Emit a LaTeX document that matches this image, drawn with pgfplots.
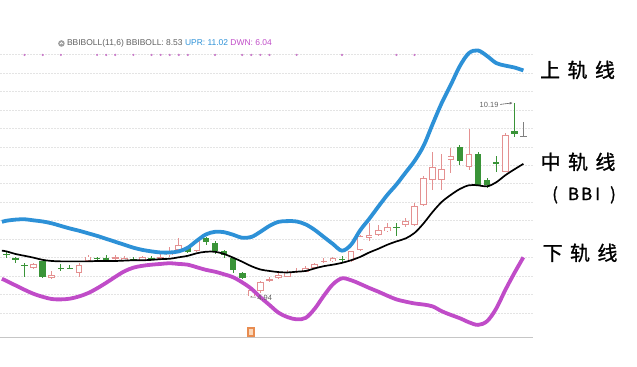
\documentclass[border=0pt]{standalone}
\usepackage{fontspec}
\setmainfont{Liberation Sans}
\newfontfamily\cjk[FakeBold=1.2]{Noto Sans CJK SC}
\usepackage{pgfplots}
\usepackage{pgfplotstable}
\pgfplotsset{compat=1.18}
\usetikzlibrary{arrows.meta}

\definecolor{bandblue}{RGB}{45,145,215}
\definecolor{bandpurple}{RGB}{192,76,200}
\definecolor{cgreen}{RGB}{58,148,56}
\definecolor{cpink}{RGB}{228,145,145}
\definecolor{gridgray}{RGB}{228,228,228}
\definecolor{txtgray}{RGB}{95,95,95}
\definecolor{dotpurple}{RGB}{200,120,200}
\definecolor{iconorange}{RGB}{232,140,80}
\definecolor{iconlight}{RGB}{250,215,185}

% candles: x = trading day, o h l c = open high low close
\pgfplotstableread{
x o h l c
3 5.72 5.85 5.70 5.83
5 5.45 5.64 5.43 5.54
8 5.58 5.85 5.49 5.79
9 5.91 6.06 5.90 6.03
12 5.98 6.08 5.90 6.00
13 5.95 6.04 5.93 6.00
15 5.93 6.05 5.91 6.02
17 5.98 6.10 5.93 6.00
18 6.06 6.29 6.02 6.16
19 6.21 6.53 6.19 6.35
21 6.19 6.48 6.16 6.44
27 4.95 5.16 4.94 5.13
28 5.10 5.37 5.04 5.34
29 5.39 5.48 5.35 5.41
30 5.45 5.58 5.43 5.54
31 5.49 5.66 5.47 5.62
32 5.62 5.73 5.58 5.64
33 5.62 5.77 5.60 5.73
34 5.72 5.86 5.70 5.83
35 5.89 5.98 5.85 5.91
36 5.91 6.02 5.89 5.99
38 5.90 6.19 5.89 6.17
39 6.21 6.62 6.19 6.59
40 6.53 6.95 6.46 6.62
41 6.62 6.89 6.59 6.75
42 6.71 6.93 6.69 6.83
44 6.89 7.07 6.83 6.98
45 6.89 7.49 6.86 7.40
46 7.43 8.20 7.40 8.15
47 8.11 8.87 7.84 8.45
48 8.11 8.81 7.84 8.40
49 8.65 8.96 8.30 8.74
51 8.45 9.48 8.38 8.81
55 8.33 9.37 8.32 9.32
}\pinktab

\pgfplotstableread{
x o h l c
0 6.10 6.19 6.00 6.08
1 5.99 6.03 5.86 5.94
2 5.81 5.86 5.49 5.77
4 5.90 5.91 5.46 5.49
6 5.73 5.83 5.64 5.70
7 5.73 5.79 5.68 5.70
10 6.00 6.03 5.91 5.96
11 5.98 6.06 5.90 5.96
14 5.96 6.02 5.91 5.94
16 6.00 6.04 5.93 5.95
20 6.26 6.29 6.13 6.15
22 6.53 6.57 6.35 6.42
23 6.39 6.44 6.10 6.17
24 6.17 6.21 5.99 6.06
25 5.99 6.03 5.58 5.67
26 5.58 5.62 5.43 5.46
37 5.97 6.04 5.89 5.94
43 6.84 6.95 6.59 6.81
50 8.99 9.05 8.51 8.63
52 8.81 8.87 7.93 7.97
53 8.09 8.15 7.88 7.97
54 8.59 8.74 8.33 8.56
56 9.44 10.19 9.28 9.35
}\greentab

\pgfplotstableread{
x o h l c
57 9.30 9.68 9.27 9.28
}\graytab

% bands: upper, middle (BBI), lower
\pgfplotstableread{
x up mid dn
-0.5 6.97 6.19 5.43
0 7.00 6.17 5.37
1 7.03 6.10 5.25
2 7.04 6.05 5.13
3 7.01 6.00 5.02
4 6.98 5.94 4.94
5 6.93 5.91 4.88
6 6.86 5.90 4.87
7 6.79 5.90 4.89
8 6.73 5.90 4.95
9 6.66 5.90 5.04
10 6.59 5.91 5.17
11 6.51 5.91 5.32
12 6.43 5.91 5.48
13 6.35 5.92 5.63
14 6.27 5.93 5.73
15 6.21 5.93 5.78
16 6.17 5.94 5.81
17 6.14 5.96 5.83
18 6.14 5.97 5.85
19 6.17 6.01 5.83
20 6.27 6.05 5.81
21 6.46 6.12 5.74
22 6.63 6.16 5.67
23 6.70 6.16 5.62
24 6.69 6.10 5.55
25 6.62 6.00 5.47
26 6.54 5.89 5.33
27 6.56 5.77 5.16
28 6.70 5.68 4.93
29 6.86 5.64 4.72
30 6.97 5.61 4.51
31 6.99 5.60 4.39
32 6.98 5.62 4.33
33 6.90 5.64 4.37
34 6.75 5.71 4.62
35 6.56 5.77 4.97
36 6.37 5.81 5.28
37 6.19 5.86 5.44
38 6.35 5.93 5.39
39 6.74 6.02 5.29
40 7.05 6.14 5.18
41 7.38 6.24 5.08
42 7.70 6.35 4.97
43 7.98 6.44 4.87
44 8.30 6.52 4.81
45 8.62 6.67 4.76
46 9.03 6.93 4.73
47 9.62 7.24 4.68
48 10.19 7.51 4.55
49 10.68 7.70 4.45
50 11.19 7.86 4.36
51 11.54 7.96 4.25
52 11.61 7.96 4.18
53 11.46 7.93 4.28
54 11.27 8.04 4.62
55 11.20 8.23 5.12
56 11.15 8.39 5.58
57 11.07 8.54 6.01
}\bandtab

\begin{document}
\begin{tikzpicture}
\begin{axis}[
  scale only axis, width=637bp, height=367bp,
  xmin=-0.661, xmax=69.53, ymin=3.046, ymax=12.977,
  axis line style={draw=none}, xtick=\empty, ytick=\empty,
  clip=false,
  error bars/error mark=none,
]
% grid
\pgfplotsinvokeforeach{4.5,5.0,...,11.5}{
  \draw[gridgray, line width=0.7bp, dash pattern=on 2bp off 1bp] (axis cs:-0.661,#1) -- (axis cs:58.1,#1);
}
\draw[gray!45, line width=0.8bp] (axis cs:-0.661,3.844) -- (axis cs:58.1,3.844);

% event dots
\addplot[only marks, mark=*, mark size=0.9bp, color=dotpurple] coordinates {
(2,11.49) (4,11.49) (6,11.49) (10,11.49) (11,11.49) (12,11.49) (14,11.49)
(16,11.49) (17,11.49) (18,11.49) (19,11.49) (20,11.49) (23,11.49) (26,11.49)
(27,11.49) (28,11.49) (29,11.49) (32,11.49) (37,11.49) (43,11.49) (45,11.49)};

% wicks
\addplot[draw=none, mark=none, error bars/.cd, y dir=both, y explicit,
  error bar style={line width=0.9bp, draw=cpink}]
  table[x=x, y expr=(\thisrow{h}+\thisrow{l})/2, y error expr=(\thisrow{h}-\thisrow{l})/2] {\pinktab};
\addplot[draw=none, mark=none, error bars/.cd, y dir=both, y explicit,
  error bar style={line width=0.9bp, draw=cgreen}]
  table[x=x, y expr=(\thisrow{h}+\thisrow{l})/2, y error expr=(\thisrow{h}-\thisrow{l})/2] {\greentab};
\addplot[draw=none, mark=none, error bars/.cd, y dir=both, y explicit,
  error bar style={line width=0.9bp, draw=gray}]
  table[x=x, y expr=(\thisrow{h}+\thisrow{l})/2, y error expr=(\thisrow{h}-\thisrow{l})/2] {\graytab};
% bodies
\addplot[draw=none, mark=none, error bars/.cd, y dir=both, y explicit,
  error bar style={line width=6.6bp, draw=cpink}]
  table[x=x, y expr=(\thisrow{o}+\thisrow{c})/2, y error expr={max(abs(\thisrow{c}-\thisrow{o})/2,0.016)}] {\pinktab};
\addplot[draw=none, mark=none, error bars/.cd, y dir=both, y explicit,
  error bar style={line width=4.8bp, draw=white}]
  table[x=x, y expr=(\thisrow{o}+\thisrow{c})/2, y error expr={max(abs(\thisrow{c}-\thisrow{o})/2-0.024,0)}] {\pinktab};
\addplot[draw=none, mark=none, error bars/.cd, y dir=both, y explicit,
  error bar style={line width=6.6bp, draw=cgreen}]
  table[x=x, y expr=(\thisrow{o}+\thisrow{c})/2, y error expr={max(abs(\thisrow{c}-\thisrow{o})/2,0.018)}] {\greentab};
\addplot[draw=none, mark=none, error bars/.cd, y dir=both, y explicit,
  error bar style={line width=6.6bp, draw=gray}]
  table[x=x, y expr=(\thisrow{o}+\thisrow{c})/2, y error expr={max(abs(\thisrow{c}-\thisrow{o})/2,0.016)}] {\graytab};

% bands
\addplot[smooth, tension=0.55, no marks, bandblue, line width=3.8bp] table[x=x, y=up] {\bandtab};
\addplot[smooth, tension=0.55, no marks, bandpurple, line width=3.8bp] table[x=x, y=dn] {\bandtab};
\addplot[smooth, tension=0.55, no marks, black, line width=1.7bp] table[x=x, y=mid] {\bandtab};

% annotations
\draw[txtgray, line width=0.6bp] (axis cs:26.9,4.935) -- (axis cs:27.5,4.93);
\node[anchor=west, inner sep=0pt, text=txtgray, font=\fontsize{7.5}{8}\selectfont] at (rel axis cs:0.4035,0.1880) {4.94};
\node[anchor=east, inner sep=0pt, text=txtgray, font=\fontsize{7.5}{8}\selectfont] at (rel axis cs:0.7826,0.7139) {10.19};
\draw[txtgray, line width=0.6bp, -{Stealth[length=3bp,width=2.4bp]}] (axis cs:54.44,10.15) -- (axis cs:55.8,10.19);

% header
\fill[gray!75] (rel axis cs:0.0958,0.8815) circle[radius=3.3bp];
\draw[white, line width=0.8bp] ([xshift=-1.5bp,yshift=-0.6bp]rel axis cs:0.0958,0.8815) -- ([yshift=0.9bp]rel axis cs:0.0958,0.8815) -- ([xshift=1.5bp,yshift=-0.6bp]rel axis cs:0.0958,0.8815);
\node[anchor=west, inner sep=0pt, text=txtgray, font=\fontsize{8.5}{10}\selectfont] at (rel axis cs:0.1044,0.8815)
  {BBIBOLL(11,6)\ BBIBOLL: 8.53\ \textcolor{bandblue}{UPR: 11.02}\ \textcolor{bandpurple}{DWN: 6.04}};

% bottom icon
\fill[iconorange] ([xshift=-4bp,yshift=-5bp]rel axis cs:0.3933,0.0954) rectangle ([xshift=4bp,yshift=5bp]rel axis cs:0.3933,0.0954);
\fill[iconlight] ([xshift=-2.2bp,yshift=-3bp]rel axis cs:0.3933,0.0954) rectangle ([xshift=2.2bp,yshift=2.5bp]rel axis cs:0.3933,0.0954);

% right labels
\node[inner sep=0pt, font=\cjk\fontsize{20}{22}\selectfont] at (rel axis cs:0.9066,0.8093) {上\hspace{7.5bp}轨\hspace{7.5bp}线};
\node[inner sep=0pt, font=\cjk\fontsize{20}{22}\selectfont] at (rel axis cs:0.9074,0.5586) {中\hspace{7.5bp}轨\hspace{7.5bp}线};
\node[inner sep=0pt, font=\cjk\fontsize{17}{18}\selectfont] at (rel axis cs:0.9168,0.4687) {(\hspace{10bp}B\hspace{2bp}B\hspace{3bp}I\hspace{10bp})};
\node[inner sep=0pt, font=\cjk\fontsize{20}{22}\selectfont] at (rel axis cs:0.9105,0.3106) {下\hspace{7.5bp}轨\hspace{7.5bp}线};
\end{axis}
\end{tikzpicture}
\end{document}
